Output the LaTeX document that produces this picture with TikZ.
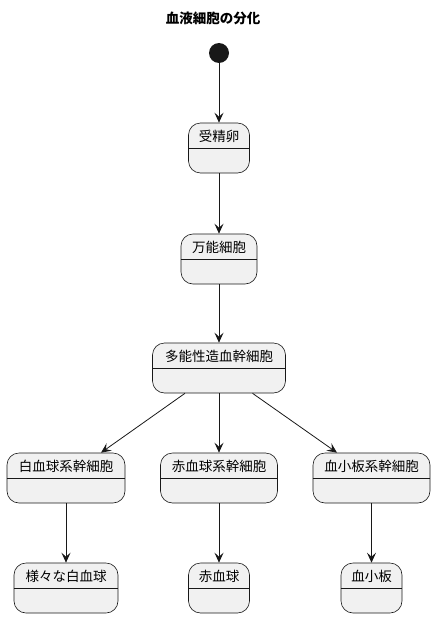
\documentclass[tikz,border=0pt]{standalone}
\usepackage{fontspec}
\setmainfont{Noto Sans CJK JP}
\usetikzlibrary{arrows.meta}
\definecolor{boxfill}{HTML}{F1F1F1}
\definecolor{ink}{HTML}{181818}
\tikzset{
  statebox/.style={draw=ink, fill=boxfill, line width=0.6pt, rounded corners=12pt, minimum height=50pt, inner sep=0pt},
  statetext/.style={font=\fontsize{13.5}{14}\selectfont, text=black, inner sep=0pt},
  flow/.style={draw=ink, line width=0.8pt, -{Stealth[length=10pt,width=9pt,inset=4pt]}},
}
\newcommand{\mystate}[5]{%
  \node[statebox, minimum width=#4pt] (#1) at (#2,#3+25) {};
  \draw[draw=ink, line width=0.6pt] ([yshift=-26pt]#1.north west) -- ([yshift=-26pt]#1.north east);
  \node[statetext] (#1t) at (#2,#3+13) {#5};
}
\begin{document}
\begin{tikzpicture}[x=1pt,y=-1pt]
\useasboundingbox (0,0) rectangle (436,618);
\node[font=\fontsize{13.5}{14}\selectfont\bfseries, inner sep=0pt] (title) at (213,18) {血液細胞の分化};
\node[circle, fill=ink, minimum size=20pt, inner sep=0pt] (start) at (219,53) {};
\mystate{zyg}{219}{123}{61}{受精卵}
\mystate{tot}{219}{234}{76}{万能細胞}
\mystate{hsc}{219}{343}{133}{多能性造血幹細胞}
\mystate{wsc}{66}{453}{118}{白血球系幹細胞}
\mystate{rsc}{219}{453}{117}{赤血球系幹細胞}
\mystate{psc}{371.5}{453}{117}{血小板系幹細胞}
\mystate{wbc}{66}{563}{104}{様々な白血球}
\mystate{rbc}{219}{563}{61}{赤血球}
\mystate{plt}{371.5}{563}{61}{血小板}
\draw[flow] (start) -- (zyg.north);
\draw[flow] (zyg.south) -- (tot.north);
\draw[flow] (tot.south) -- (hsc.north);
\draw[flow] ([xshift=-34pt]hsc.south) -- ([xshift=35pt]wsc.north);
\draw[flow] (hsc.south) -- (rsc.north);
\draw[flow] ([xshift=33.5pt]hsc.south) -- ([xshift=-34.5pt]psc.north);
\draw[flow] (wsc.south) -- (wbc.north);
\draw[flow] (rsc.south) -- (rbc.north);
\draw[flow] (psc.south) -- (plt.north);
\end{tikzpicture}
\end{document}
